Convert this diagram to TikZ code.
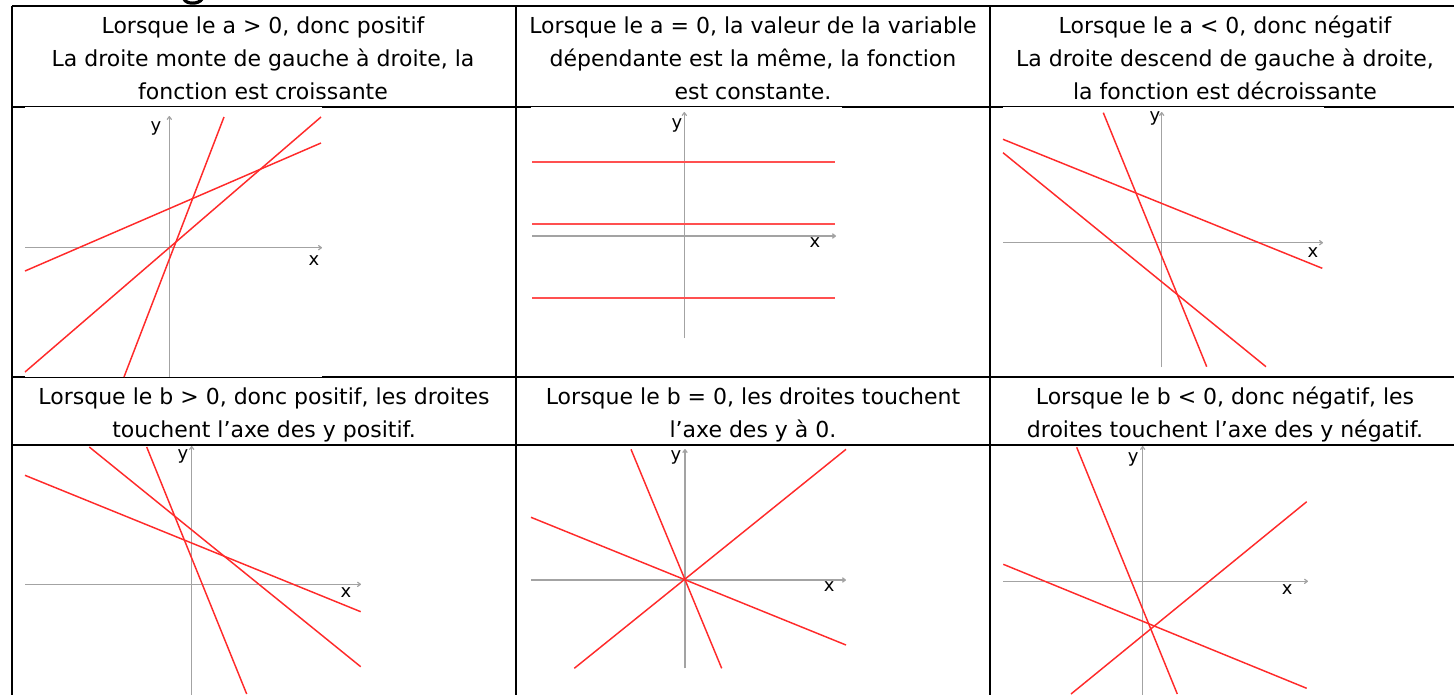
\documentclass[tikz,border=0pt]{standalone}
\usepackage{fontspec}
\setmainfont{DejaVu Sans}
\usetikzlibrary{arrows.meta}
\definecolor{axisgray}{HTML}{A3A3A3}
\definecolor{plotred}{HTML}{FF2A2A}
\definecolor{flatred}{HTML}{FF5050}
\begin{document}
\begin{tikzpicture}[x=0.75pt,y=-0.75pt,
  tabline/.style={line width=2pt,black},
  txt/.style={anchor=base,inner sep=0pt,font=\fontsize{16.5}{20}\selectfont},
  axisline/.style={axisgray,line width=0.9pt,-{To[length=3pt,width=4pt]}},
  redline/.style={plotred,line width=1.1pt},
  flatline/.style={draw=flatred,line width=1.6pt},
  lbl/.style={inner sep=0pt,font=\fontsize{13.5}{15}\selectfont},
  imgbg/.style={fill=white,draw=none}]
\clip (0,0) rectangle (1454,694);
\useasboundingbox (0,0) rectangle (1454,694);
% cut-off heading fragment (bottom of a bold letter)
\draw[line width=2.4pt,black] (184,-1) .. controls (186,4.5) and (199,4.5) .. (202,-1);
% table grid
\draw[tabline] (12,6) -- (1460,6);
\draw[tabline] (12,107) -- (1460,107);
\draw[tabline] (12,377) -- (1460,377);
\draw[tabline] (12,445) -- (1460,445);
\draw[tabline] (12,6) -- (12,700);
\draw[tabline] (516,6) -- (516,700);
\draw[tabline] (990,6) -- (990,700);
% image backgrounds slightly covering the rules
\fill[imgbg] (25,107.3) rectangle (322,377.2);
\fill[imgbg] (531,107.3) rectangle (842,372);
\fill[imgbg] (1003,107.3) rectangle (1324,370);
% row 1 texts
\node[txt] (a1) at (263,33) {Lorsque le a > 0, donc positif};
\node[txt] (a2) at (263,66) {La droite monte de gauche à droite, la};
\node[txt] (a3) at (263,99) {fonction est croissante};
\node[txt] (b1) at (753,33) {Lorsque le a = 0, la valeur de la variable};
\node[txt] (b2) at (753,66) {dépendante est la même, la fonction};
\node[txt] (b3) at (753,99) {est constante.};
\node[txt] (c1) at (1225,33) {Lorsque le a < 0, donc négatif};
\node[txt] (c2) at (1225,66) {La droite descend de gauche à droite,};
\node[txt] (c3) at (1225,99) {la fonction est décroissante};
% row 3 texts
\node[txt] (d1) at (264,404) {Lorsque le b > 0, donc positif, les droites};
\node[txt] (d2) at (264,437) {touchent l’axe des y positif.};
\node[txt] (e1) at (753,404) {Lorsque le b = 0, les droites touchent};
\node[txt] (e2) at (753,437) {l’axe des y à 0.};
\node[txt] (f1) at (1225,404) {Lorsque le b < 0, donc négatif, les};
\node[txt] (f2) at (1225,437) {droites touchent l’axe des y négatif.};
% ---- graph 1 (a > 0)
\draw[axisline] (25,247.7) -- (322,247.7);
\draw[axisline] (169.3,377) -- (169.3,116);
\draw[redline] (224,117) -- (124,377);
\draw[redline] (321,117) -- (25,372);
\draw[redline] (321,143) -- (25,271);
\node[lbl] (g1y) at (156,128) {y};
\node[lbl] (g1x) at (314,261) {x};
% ---- graph 2 (a = 0)
\draw[axisline] (532,236) -- (836,236);
\draw[axisline] (684.3,338) -- (684.3,112);
\path[flatline] (532,161.7) -- (835,161.7);
\path[flatline] (532,223.7) -- (835,223.7);
\path[flatline] (532,297.7) -- (835,297.7);
\node[lbl] (g2y) at (677,125) {y};
\node[lbl] (g2x) at (815,243) {x};
% ---- graph 3 (a < 0)
\draw[axisline] (1003,242.7) -- (1323,242.7);
\draw[axisline] (1161.7,367) -- (1161.7,112);
\draw[redline] (1103.3,112.7) -- (1206.7,366.7);
\draw[redline] (1003,139.3) -- (1322.3,268.3);
\draw[redline] (1003,152.7) -- (1266,366.7);
\node[lbl] (g3y) at (1155,118) {y};
\node[lbl] (g3x) at (1313,253) {x};
% ---- graph 4 (b > 0)
\draw[axisline] (25,584.3) -- (361,584.3);
\draw[axisline] (191.7,700) -- (191.7,446);
\draw[redline] (146.7,447) -- (246.7,694);
\draw[redline] (89.3,447) -- (360.7,666.7);
\draw[redline] (25,475.3) -- (360.7,611.7);
\node[lbl] (g4y) at (183,456) {y};
\node[lbl] (g4x) at (346,593) {x};
% ---- graph 5 (b = 0)
\draw[axisline] (531,580) -- (846,580);
\draw[axisline] (685,668.3) -- (685,449);
\draw[redline] (631,449.3) -- (721.7,668.3);
\draw[redline] (846,449.3) -- (574.3,668.3);
\draw[redline] (531,517.3) -- (846,645);
\node[lbl] (g5y) at (676,457.3) {y};
\node[lbl] (g5x) at (829.3,586.7) {x};
% ---- graph 6 (b < 0)
\draw[axisline] (1003.3,581.3) -- (1308,581.3);
\draw[axisline] (1142.7,700) -- (1142.7,446);
\draw[redline] (1076.7,447.3) -- (1177.3,694);
\draw[redline] (1306.7,501.7) -- (1071,694);
\draw[redline] (1003.3,564.3) -- (1306.7,688.3);
\node[lbl] (g6y) at (1133.3,459.3) {y};
\node[lbl] (g6x) at (1287.3,589.3) {x};
\end{tikzpicture}
\end{document}
